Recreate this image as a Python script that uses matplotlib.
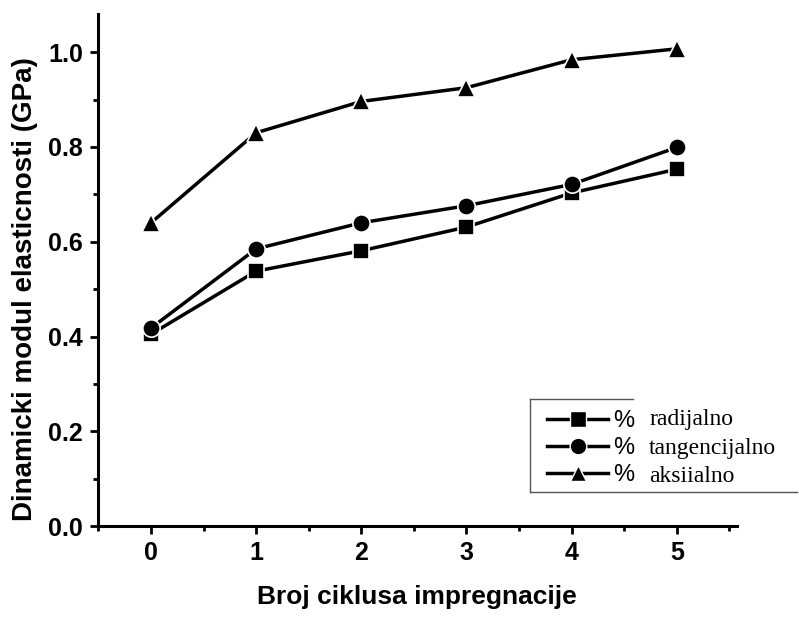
import numpy as np
import matplotlib
matplotlib.use("Agg")
import matplotlib.pyplot as plt
from matplotlib.lines import Line2D
from matplotlib.ticker import MultipleLocator

# podaci ocitani sa grafika
ciklusi = [0, 1, 2, 3, 4, 5]
radijalno = [0.405, 0.538, 0.581, 0.631, 0.703, 0.753]
tangencijalno = [0.418, 0.585, 0.640, 0.676, 0.721, 0.799]
aksijalno = [0.640, 0.830, 0.896, 0.925, 0.984, 1.007]
nazivi = ["radijalno", "tangencijalno", "aksiialno"]
markeri = ["s", "o", "^"]

plt.rcParams['font.family'] = ['Liberation Sans', 'DejaVu Sans']

fig = plt.figure(figsize=(7.99, 6.19), dpi=100)
ax = fig.add_axes([0.1227, 0.150, 0.922 - 0.1227, 0.977 - 0.150])

serije = [radijalno, tangencijalno, aksijalno]
velicine = [12, 12.5, 13]
for vals, m, ms in zip(serije, markeri, velicine):
    ax.plot(ciklusi, vals, color='black', lw=2.5, marker=m, ms=ms,
            mfc='black', mec='white', mew=1.2, clip_on=False, zorder=3)

ax.set_xlim(-0.504, 5.57)
ax.set_ylim(0, 1.08)
ax.xaxis.set_major_locator(MultipleLocator(1))
ax.xaxis.set_minor_locator(MultipleLocator(0.5))
ax.yaxis.set_major_locator(MultipleLocator(0.2))
ax.yaxis.set_minor_locator(MultipleLocator(0.1))
ax.yaxis.set_major_formatter(matplotlib.ticker.FormatStrFormatter('%.1f'))

for s in ['top', 'right']:
    ax.spines[s].set_visible(False)
for s in ['left', 'bottom']:
    ax.spines[s].set_linewidth(2.2)

ax.tick_params(which='major', direction='out', length=6, width=2.0,
               labelsize=18, pad=5)
ax.tick_params(which='minor', direction='out', length=3.5, width=2.0)
for lab in ax.get_xticklabels() + ax.get_yticklabels():
    lab.set_fontweight('bold')

ax.set_xlabel("Broj ciklusa impregnacije", fontsize=19, fontweight='bold', labelpad=14)
ax.set_ylabel("Dinamicki modul elasticnosti (GPa)", fontsize=20, fontweight='bold')
ax.yaxis.set_label_coords(-0.094, 0.463)

# legenda
handles = [Line2D([], [], color='black', lw=2.5, marker=m, ms=12,
                  mfc='black', mec='white', mew=1.0) for m in markeri]
leg = fig.legend(handles, ['%'] * 3, loc='upper left',
                 bbox_to_anchor=(547 / 799, 1 - 410 / 619), frameon=False,
                 fontsize=17, handlelength=2.6, handletextpad=0.2,
                 labelspacing=0.21, borderpad=0, borderaxespad=0)

for i, naziv in enumerate(nazivi):
    fig.text(649 / 799, 1 - (420 + 28.5 * i) / 619, naziv, fontsize=17,
             family=['Liberation Serif', 'DejaVu Serif'], va='center', ha='left')

# okvir legende (delimican)
y_top = 1 - 399 / 619
y_bot = 1 - 492 / 619
x_l = 530 / 799
fig.add_artist(Line2D([x_l, x_l], [y_bot, y_top], color='#555555', lw=1.0))
fig.add_artist(Line2D([x_l, 633 / 799], [y_top, y_top], color='#555555', lw=1.0))
fig.add_artist(Line2D([x_l, 797 / 799], [y_bot, y_bot], color='#555555', lw=1.0))

fig.savefig("out.png", dpi=100)
